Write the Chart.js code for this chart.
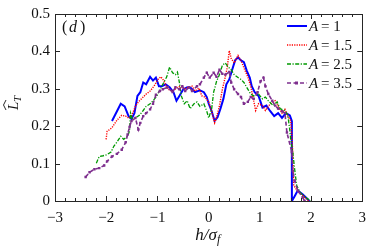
<!DOCTYPE html>
<html lang="en">
<head>
<meta charset="UTF-8">
<title>L_T against h/sigma_f</title>
<script src="https://cdn.jsdelivr.net/npm/chart.js"></script>
<style>
  body { margin: 0; background: #fff; }
</style>
</head>
<body>
<canvas id="chart" width="374" height="248"></canvas>
<script>
// values, one pair of arrays per curve
const labels = ['1', '1.5', '2.5', '3.5'];

const hA1 = [-1.887, -1.79, -1.716, -1.64, -1.563, -1.506, -1.449, -1.39, -1.334, -1.277, -1.22, -1.143, -1.086, -1.03, -0.97, -0.914, -0.838, -0.762, -0.686, -0.628, -0.571, -0.495, -0.418, -0.342, -0.266, -0.17, -0.093, -0.036, 0.002, 0.06, 0.117, 0.174, 0.231, 0.288, 0.346, 0.403, 0.46, 0.517, 0.574, 0.632, 0.689, 0.746, 0.803, 0.842, 0.899, 0.975, 1.052, 1.128, 1.204, 1.28, 1.357, 1.433, 1.51, 1.586, 1.624, 1.625, 1.627, 1.68, 1.74, 1.835, 1.97];
const lA1 = [0.214, 0.240, 0.260, 0.253, 0.227, 0.219, 0.235, 0.281, 0.291, 0.317, 0.312, 0.332, 0.322, 0.330, 0.307, 0.307, 0.312, 0.304, 0.291, 0.268, 0.281, 0.299, 0.304, 0.302, 0.291, 0.296, 0.291, 0.278, 0.260, 0.240, 0.214, 0.224, 0.247, 0.273, 0.312, 0.325, 0.351, 0.376, 0.384, 0.376, 0.371, 0.348, 0.330, 0.307, 0.291, 0.281, 0.250, 0.255, 0.240, 0.227, 0.235, 0.222, 0.235, 0.229, 0.214, 0.106, 0, 0.013, 0.028, 0.018, 0];

const hA15 = [-2.002, -1.983, -1.887, -1.79, -1.697, -1.62, -1.563, -1.506, -1.43, -1.372, -1.277, -1.22, -1.143, -1.067, -0.99, -0.933, -0.876, -0.8, -0.705, -0.628, -0.552, -0.476, -0.399, -0.323, -0.266, -0.189, -0.132, -0.074, 0.002, 0.06, 0.117, 0.155, 0.212, 0.269, 0.326, 0.365, 0.403, 0.441, 0.498, 0.574, 0.632, 0.689, 0.765, 0.822, 0.861, 0.918, 0.975, 1.052, 1.109, 1.204, 1.3, 1.357, 1.433, 1.49, 1.548, 1.605, 1.643, 1.662, 1.74, 1.835, 1.95];
const lA15 = [0.165, 0.186, 0.196, 0.216, 0.229, 0.227, 0.222, 0.227, 0.253, 0.265, 0.278, 0.286, 0.294, 0.307, 0.325, 0.332, 0.322, 0.299, 0.294, 0.302, 0.307, 0.299, 0.304, 0.307, 0.294, 0.302, 0.281, 0.278, 0.265, 0.240, 0.209, 0.224, 0.255, 0.299, 0.332, 0.358, 0.402, 0.381, 0.369, 0.389, 0.376, 0.356, 0.332, 0.307, 0.281, 0.242, 0.260, 0.255, 0.242, 0.260, 0.268, 0.253, 0.235, 0.245, 0.227, 0.214, 0.131, 0.041, 0.026, 0.015, 0];

const hA25 = [-2.193, -2.136, -2.06, -1.983, -1.906, -1.849, -1.792, -1.716, -1.658, -1.582, -1.544, -1.525, -1.487, -1.43, -1.353, -1.277, -1.22, -1.143, -1.086, -1.01, -0.933, -0.876, -0.818, -0.762, -0.704, -0.647, -0.609, -0.571, -0.533, -0.476, -0.418, -0.361, -0.285, -0.227, -0.17, -0.093, -0.036, 0.002, 0.06, 0.098, 0.155, 0.212, 0.269, 0.326, 0.384, 0.441, 0.498, 0.574, 0.632, 0.689, 0.765, 0.822, 0.88, 0.975, 1.052, 1.109, 1.166, 1.262, 1.338, 1.395, 1.49, 1.548, 1.586, 1.605, 1.643, 1.68, 1.72, 1.797, 1.893, 1.99];
const lA25 = [0.101, 0.119, 0.121, 0.124, 0.131, 0.147, 0.157, 0.173, 0.165, 0.173, 0.188, 0.235, 0.219, 0.222, 0.229, 0.242, 0.253, 0.260, 0.268, 0.281, 0.302, 0.317, 0.332, 0.358, 0.343, 0.338, 0.345, 0.317, 0.281, 0.260, 0.268, 0.247, 0.260, 0.265, 0.253, 0.260, 0.240, 0.222, 0.247, 0.291, 0.320, 0.338, 0.363, 0.369, 0.358, 0.351, 0.338, 0.330, 0.325, 0.317, 0.299, 0.286, 0.281, 0.286, 0.273, 0.278, 0.268, 0.255, 0.265, 0.247, 0.242, 0.229, 0.188, 0.162, 0.131, 0.085, 0.041, 0.021, 0.010, 0];

const hA35 = [-2.402, -2.326, -2.231, -2.136, -2.04, -1.983, -1.887, -1.792, -1.697, -1.62, -1.582, -1.544, -1.506, -1.43, -1.372, -1.334, -1.277, -1.22, -1.143, -1.086, -1.029, -0.952, -0.895, -0.8, -0.705, -0.647, -0.571, -0.514, -0.457, -0.38, -0.323, -0.227, -0.17, -0.093, -0.036, 0.021, 0.098, 0.155, 0.212, 0.269, 0.326, 0.403, 0.441, 0.498, 0.574, 0.632, 0.689, 0.765, 0.822, 0.88, 0.956, 1.014, 1.071, 1.109, 1.166, 1.243, 1.3, 1.357, 1.433, 1.49, 1.529, 1.624, 1.643, 1.68, 1.74, 1.835, 1.874];
const lA35 = [0.064, 0.077, 0.085, 0.088, 0.095, 0.106, 0.119, 0.126, 0.137, 0.157, 0.178, 0.198, 0.214, 0.222, 0.191, 0.209, 0.227, 0.235, 0.245, 0.260, 0.284, 0.294, 0.299, 0.304, 0.291, 0.304, 0.299, 0.307, 0.294, 0.304, 0.294, 0.307, 0.312, 0.330, 0.343, 0.330, 0.343, 0.332, 0.351, 0.340, 0.338, 0.345, 0.317, 0.299, 0.286, 0.278, 0.260, 0.265, 0.278, 0.273, 0.291, 0.320, 0.330, 0.307, 0.286, 0.268, 0.255, 0.247, 0.240, 0.235, 0.183, 0.131, 0.080, 0.054, 0.028, 0.010, 0];

const xTicks = [-3, -2, -1, 0, 1, 2, 3];
const yTicks = [0, 0.1, 0.2, 0.3, 0.4, 0.5];

const serif = '"Liberation Serif", "DejaVu Serif", serif';
const ink = '#262626';

function pts(xs, ys) {
  return xs.map((x, i) => ({ x: x, y: ys[i] }));
}

const blue = '#0000ff', red = '#ff0000', green = '#009900', purple = '#7e2f8e';

// frame with inward ticks, drawn over the curves
const frame = {
  id: 'frame',
  afterDatasetsDraw(chart) {
    const { ctx, chartArea: a, scales: { x, y } } = chart;
    ctx.save();
    ctx.strokeStyle = ink;
    ctx.lineWidth = 1;
    ctx.beginPath();
    for (let i = -15; i <= 15; i++) {
      const px = Math.round(x.getPixelForValue(i / 5)) + 0.5;
      const len = i % 5 === 0 ? 5 : 3;
      ctx.moveTo(px, a.bottom); ctx.lineTo(px, a.bottom - len);
      ctx.moveTo(px, a.top); ctx.lineTo(px, a.top + len);
    }
    yTicks.forEach(v => {
      const py = Math.round(y.getPixelForValue(v)) + 0.5;
      ctx.moveTo(a.left, py); ctx.lineTo(a.left + 5, py);
      ctx.moveTo(a.right, py); ctx.lineTo(a.right - 5, py);
    });
    ctx.stroke();
    ctx.strokeRect(Math.round(a.left) + 0.5, Math.round(a.top) + 0.5,
      Math.round(a.right - a.left), Math.round(a.bottom - a.top));
    ctx.restore();
  },
  afterDraw(chart) {
    const { ctx, chartArea: a } = chart;
    ctx.save();
    ctx.fillStyle = '#111';
    ctx.textBaseline = 'alphabetic';
    ctx.textAlign = 'left';

    // panel tag
    ctx.font = '16px ' + serif;
    ctx.fillText('(', 62, 32);
    ctx.font = 'italic 16px ' + serif;
    ctx.fillText('d', 69, 32);
    ctx.font = '16px ' + serif;
    ctx.fillText(')', 80, 32);

    // x title
    const cx = (a.left + a.right) / 2;
    ctx.font = 'italic 17px ' + serif;
    const main = 'h/σ';
    const wMain = ctx.measureText(main).width;
    const x0 = cx - (wMain + 5) / 2;
    ctx.fillText(main, x0, 240);
    ctx.font = 'italic 12px ' + serif;
    ctx.fillText('f', x0 + wMain, 243);

    // y title, rotated
    ctx.save();
    ctx.translate(18, 110);
    ctx.rotate(-Math.PI / 2);
    ctx.font = 'italic 15px ' + serif;
    ctx.fillText('L', 0, 0);
    ctx.font = 'italic 11px ' + serif;
    ctx.fillText('T', 8, 3);
    ctx.strokeStyle = '#111';
    ctx.lineWidth = 0.9;
    ctx.beginPath();
    ctx.moveTo(0, -12); ctx.lineTo(5, -14.5); ctx.lineTo(10, -12);
    ctx.stroke();
    ctx.restore();

    // legend
    const styles = [
      { c: blue, w: 2, dash: [] },
      { c: red, w: 1.4, dash: [1.2, 1.2] },
      { c: green, w: 1.3, dash: [4, 1.5, 1.2, 1.5] },
      { c: purple, w: 1.3, dash: [4, 2.5], mark: true }
    ];
    chart.data.datasets.forEach((ds, i) => {
      const ly = 26 + i * 19;
      const s = styles[i];
      ctx.strokeStyle = s.c;
      ctx.lineWidth = s.w;
      ctx.setLineDash(s.dash);
      ctx.beginPath();
      ctx.moveTo(287, ly); ctx.lineTo(307, ly);
      ctx.stroke();
      ctx.setLineDash([]);
      if (s.mark) {
        ctx.fillStyle = s.c;
        ctx.fillRect(295, ly - 1.5, 3, 3);
      }
      ctx.fillStyle = '#111';
      ctx.font = 'italic 15px ' + serif;
      ctx.fillText('A', 309, ly + 5);
      ctx.font = '15px ' + serif;
      ctx.fillText('= ' + labels[i], 321, ly + 5);
    });
    ctx.restore();
  }
};

new Chart(document.getElementById('chart'), {
  type: 'scatter',
  data: {
    datasets: [
      { label: 'A = 1', data: pts(hA1, lA1), showLine: true, borderColor: blue, borderWidth: 2, pointRadius: 0, order: 4 },
      { label: 'A = 1.5', data: pts(hA15, lA15), showLine: true, borderColor: red, borderWidth: 1.4, borderDash: [1.2, 1.2], pointRadius: 0, order: 3 },
      { label: 'A = 2.5', data: pts(hA25, lA25), showLine: true, borderColor: green, borderWidth: 1.3, borderDash: [4, 1.5, 1.2, 1.5], pointRadius: 0, order: 2 },
      { label: 'A = 3.5', data: pts(hA35, lA35), showLine: true, borderColor: purple, backgroundColor: purple, borderWidth: 1.6, borderDash: [4, 2.5], pointStyle: 'rect', pointRadius: 1.7, pointBorderWidth: 0, order: 1 }
    ]
  },
  options: {
    responsive: false,
    animation: false,
    devicePixelRatio: 1,
    layout: { padding: { top: 7, right: 4, left: 0, bottom: 0 } },
    plugins: { legend: { display: false }, tooltip: { enabled: false } },
    scales: {
      x: {
        type: 'linear', min: -3, max: 3,
        afterBuildTicks: s => { s.ticks = xTicks.map(v => ({ value: v })); },
        afterFit: s => { s.height = 47; },
        grid: { display: false, drawTicks: false },
        border: { display: false },
        ticks: {
          color: '#111', padding: 8,
          font: { family: serif, size: 15 },
          callback: v => v < 0 ? '\u2212' + Math.abs(v) : String(v)
        }
      },
      y: {
        min: 0, max: 0.5,
        afterBuildTicks: s => { s.ticks = yTicks.map(v => ({ value: v })); },
        afterFit: s => { s.width = 55; },
        grid: { display: false, drawTicks: false },
        border: { display: false },
        ticks: {
          color: '#111', padding: 5,
          font: { family: serif, size: 15 },
          callback: v => v === 0 ? '0' : v.toFixed(1)
        }
      }
    }
  },
  plugins: [frame]
});
</script>
</body>
</html>
